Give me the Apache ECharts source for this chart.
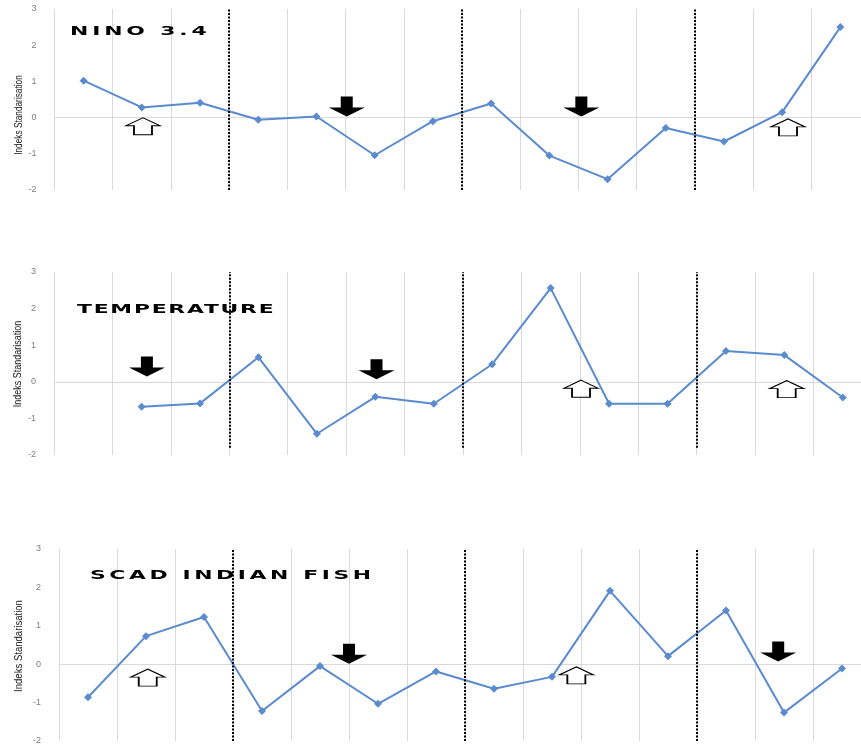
<!DOCTYPE html>
<html>
<head>
<meta charset="utf-8">
<script src="https://cdn.jsdelivr.net/npm/echarts@6/dist/echarts.min.js"></script>
<style>
  html, body { margin: 0; padding: 0; background: #fff; }
  #chart { width: 861px; height: 746px; }
</style>
</head>
<body>
<div id="chart"></div>
<script>
// ---------------- data ----------------
const categories = ['1','2','3','4','5','6','7','8','9','10','11','12','13','14'];
const panelTitles = ['NINO 3.4', 'TEMPERATURE', 'SCAD INDIAN FISH'];
const yAxisName = 'Indeks Standarisation';
const yTicks = [-2, -1, 0, 1, 2, 3];

const ninoValues = [1.02, 0.28, 0.41, -0.06, 0.03, -1.04, -0.10, 0.39, -1.05, -1.70, -0.29, -0.66, 0.15, 2.50];
const tempValues = [null, -0.68, -0.59, 0.67, -1.42, -0.41, -0.60, 0.48, 2.56, -0.60, -0.60, 0.84, 0.73, -0.43];
const fishValues = [-0.86, 0.73, 1.23, -1.22, -0.05, -1.03, -0.19, -0.64, -0.33, 1.91, 0.21, 1.40, -1.26, -0.11];

// category-boundary positions of the dotted separators
const dividers = [3, 7, 11];
const dividerLow = [-2, -1.8, -2];

// arrow annotations [position along category scale, value]
const ninoUp = [[1.52, -0.24], [12.6, -0.27]];
const ninoDown = [[5.02, 0.31], [9.05, 0.31]];
const tempUp = [[9.02, -0.19], [12.54, -0.2]];
const tempDown = [[1.59, 0.42], [5.52, 0.34]];
const fishUp = [[1.53, -0.35], [8.92, -0.29]];
const fishDown = [[5.0, 0.27], [12.4, 0.33]];

// ---------------- letter-spaced titles ----------------
const titleSpacing = { 'NINO 3.4': 2.2, 'TEMPERATURE': 1.0, 'SCAD INDIAN FISH': 2.05 };
(function () {
  const proto = CanvasRenderingContext2D.prototype;
  const orig = proto.fillText;
  proto.fillText = function (t) {
    if (Object.prototype.hasOwnProperty.call(titleSpacing, t) && 'letterSpacing' in this) {
      const font = this.font;
      this.letterSpacing = titleSpacing[t] + 'px';
      this.font = font;
      const r = orig.apply(this, arguments);
      this.letterSpacing = '0px';
      this.font = font;
      return r;
    }
    if ('letterSpacing' in this && this.letterSpacing !== '0px') {
      const font = this.font;
      this.letterSpacing = '0px';
      this.font = font;
    }
    return orig.apply(this, arguments);
  };
})();

// ---------------- layout ----------------
const panels = [
  { values: ninoValues, up: ninoUp, down: ninoDown, grid: { left: 54.5, width: 815, top: 9, height: 181 }, name: [18.5, 115, 0.72], title: [70, 31.5] },
  { values: tempValues, up: tempUp, down: tempDown, grid: { left: 54, width: 818, top: 272, height: 183 }, name: [18, 364, 0.78], title: [77, 309.5] },
  { values: fishValues, up: fishUp, down: fishDown, grid: { left: 59, width: 812, top: 549, height: 192 }, name: [18.5, 646, 0.83], title: [90, 576] }
];

const LINE_COLOR = '#5A8BCF';
const GRID_COLOR = '#d9d9d9';
const DOWN_PATH = 'path://M12,0 L24,0 L24,11 L36,11 L18,20 L0,11 L12,11 Z';
const UP_PATH = 'path://M17,0 L34,8 L26,8 L26,17 L8,17 L8,8 L0,8 Z';

const grid = [], xAxis = [], yAxis = [], series = [], graphic = [];

panels.forEach((p, i) => {
  grid.push(Object.assign({ outerBoundsMode: 'none' }, p.grid));
  xAxis.push({
    type: 'category', gridIndex: i, data: categories, boundaryGap: true,
    axisLine: { show: true, onZero: true, lineStyle: { color: GRID_COLOR, width: 1 } },
    axisTick: { show: false }, axisLabel: { show: false },
    splitLine: { show: true, lineStyle: { color: GRID_COLOR, width: 1 } }
  });
  xAxis.push({ type: 'value', gridIndex: i, min: 0, max: categories.length, show: false });
  yAxis.push({
    type: 'value', gridIndex: i, min: yTicks[0], max: yTicks[yTicks.length - 1], interval: 1,
    axisLine: { show: false }, axisTick: { show: false }, splitLine: { show: false },
    axisLabel: { color: '#7f7f7f', fontSize: 9, margin: 18, fontFamily: 'Liberation Sans' }
  });
  series.push({
    type: 'line', xAxisIndex: 2 * i, yAxisIndex: i, data: p.values,
    symbol: 'diamond', symbolSize: 8, connectNulls: false,
    lineStyle: { color: LINE_COLOR, width: 2 }, itemStyle: { color: LINE_COLOR },
    z: 3
  });
  series.push({
    type: 'scatter', xAxisIndex: 2 * i + 1, yAxisIndex: i, data: p.down,
    symbol: DOWN_PATH, symbolSize: [36, 20], itemStyle: { color: '#000', opacity: 1 }, z: 5,
    markLine: {
      silent: true, symbol: ['none', 'none'], label: { show: false },
      lineStyle: { color: '#000', width: 2, type: [2, 1.5] },
      data: dividers.map(d => [{ coord: [d, dividerLow[i]] }, { coord: [d, yTicks[yTicks.length - 1]] }])
    }
  });
  series.push({
    type: 'scatter', xAxisIndex: 2 * i + 1, yAxisIndex: i, data: p.up,
    symbol: UP_PATH, symbolSize: [34, 17],
    itemStyle: { color: '#fff', borderColor: '#000', borderWidth: 1.3, opacity: 1 }, z: 5
  });
  graphic.push({
    type: 'text', x: p.name[0], y: p.name[1], rotation: Math.PI / 2, scaleX: p.name[2], z: 9,
    style: {
      text: yAxisName, fill: '#1a1a1a',
      font: '11.5px "Liberation Sans", Arial, sans-serif',
      textAlign: 'center', textVerticalAlign: 'middle', align: 'center', verticalAlign: 'middle'
    }
  });
  graphic.push({
    type: 'text', x: p.title[0], y: p.title[1], scaleX: 1.75, z: 11,
    style: {
      text: panelTitles[i], fill: '#000',
      font: 'bold 12.5px "DejaVu Sans", sans-serif',
      textAlign: 'left', textVerticalAlign: 'middle', align: 'left', verticalAlign: 'middle'
    }
  });
});

const chart = echarts.init(document.getElementById('chart'), null, { renderer: 'canvas' });
chart.setOption({
  animation: false,
  backgroundColor: '#fff',
  grid, xAxis, yAxis, series, graphic,
  tooltip: { show: false }
});
</script>
</body>
</html>
